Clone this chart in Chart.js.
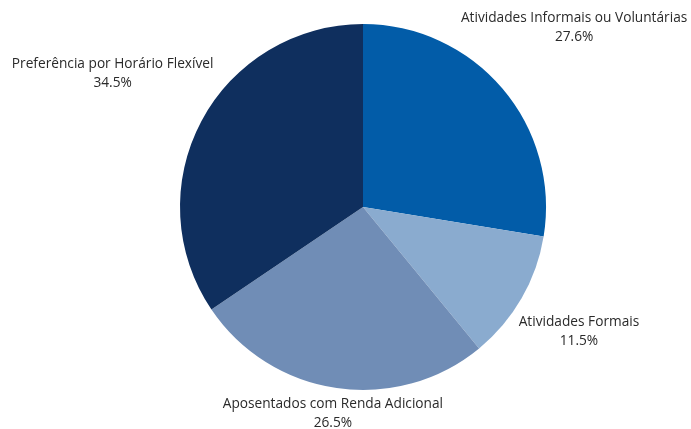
<!DOCTYPE html>
<html lang="pt-BR">
<head>
<meta charset="utf-8">
<title>Motivos para trabalhar</title>
<script src="https://cdn.jsdelivr.net/npm/chart.js@4/dist/chart.umd.min.js"></script>
<style>
  html, body { margin: 0; padding: 0; background: #fff; }
  #wrap { width: 691px; height: 429px; position: relative; }
</style>
</head>
<body>
<div id="wrap"><canvas id="pieChart"></canvas></div>
<script>
// Categories and shares (%)
const categories = [
  'Atividades Informais ou Voluntárias',
  'Atividades Formais',
  'Aposentados com Renda Adicional',
  'Preferência por Horário Flexível'
]
const shares = [27.6, 11.5, 26.5, 34.5]
const sliceColors = ['#025ca8', '#8aabcf', '#708db6', '#0f2f5e']

const labelFont = '13.7px "Open Sans", "Noto Sans", sans-serif'
const lineHeight = 19
const labelGap = 5

// Outside labels: slide each text block along the slice's mid-angle
// until it clears the pie by labelGap pixels
const outsideLabels = {
  id: 'outsideLabels',
  afterDraw(chart) {
    const ctx = chart.ctx
    const meta = chart.getDatasetMeta(0)
    ctx.save()
    ctx.font = labelFont
    ctx.fillStyle = '#2a2a2a'
    ctx.textAlign = 'center'
    ctx.textBaseline = 'middle'
    meta.data.forEach((arc, i) => {
      const lines = [categories[i], shares[i].toFixed(1) + '%']
      const hw = Math.max(...lines.map(l => ctx.measureText(l).width)) / 2
      const hh = lineHeight
      const mid = (arc.startAngle + arc.endAngle) / 2
      const ux = Math.cos(mid), uy = Math.sin(mid)
      const target = arc.outerRadius + labelGap
      const clearance = d => {
        const cx = ux * d, cy = uy * d
        const nx = Math.max(cx - hw, Math.min(0, cx + hw))
        const ny = Math.max(cy - hh, Math.min(0, cy + hh))
        return Math.hypot(nx, ny)
      }
      let lo = 0, hi = arc.outerRadius + 400
      for (let k = 0; k < 40; k++) {
        const m = (lo + hi) / 2
        if (clearance(m) < target) lo = m; else hi = m
      }
      const x = arc.x + ux * hi
      const y = arc.y + uy * hi
      ctx.fillText(lines[0], x, y - lineHeight / 2)
      ctx.fillText(lines[1], x, y + lineHeight / 2)
    })
    ctx.restore()
  }
}

new Chart(document.getElementById('pieChart'), {
  type: 'pie',
  data: {
    labels: categories,
    datasets: [{
      data: shares,
      backgroundColor: sliceColors,
      borderWidth: 0,
      hoverOffset: 0
    }]
  },
  options: {
    responsive: true,
    maintainAspectRatio: false,
    animation: false,
    layout: { padding: { left: 35, right: 0, top: 24, bottom: 39 } },
    plugins: {
      legend: { display: false },
      tooltip: { enabled: false }
    }
  },
  plugins: [outsideLabels]
})
</script>
</body>
</html>
